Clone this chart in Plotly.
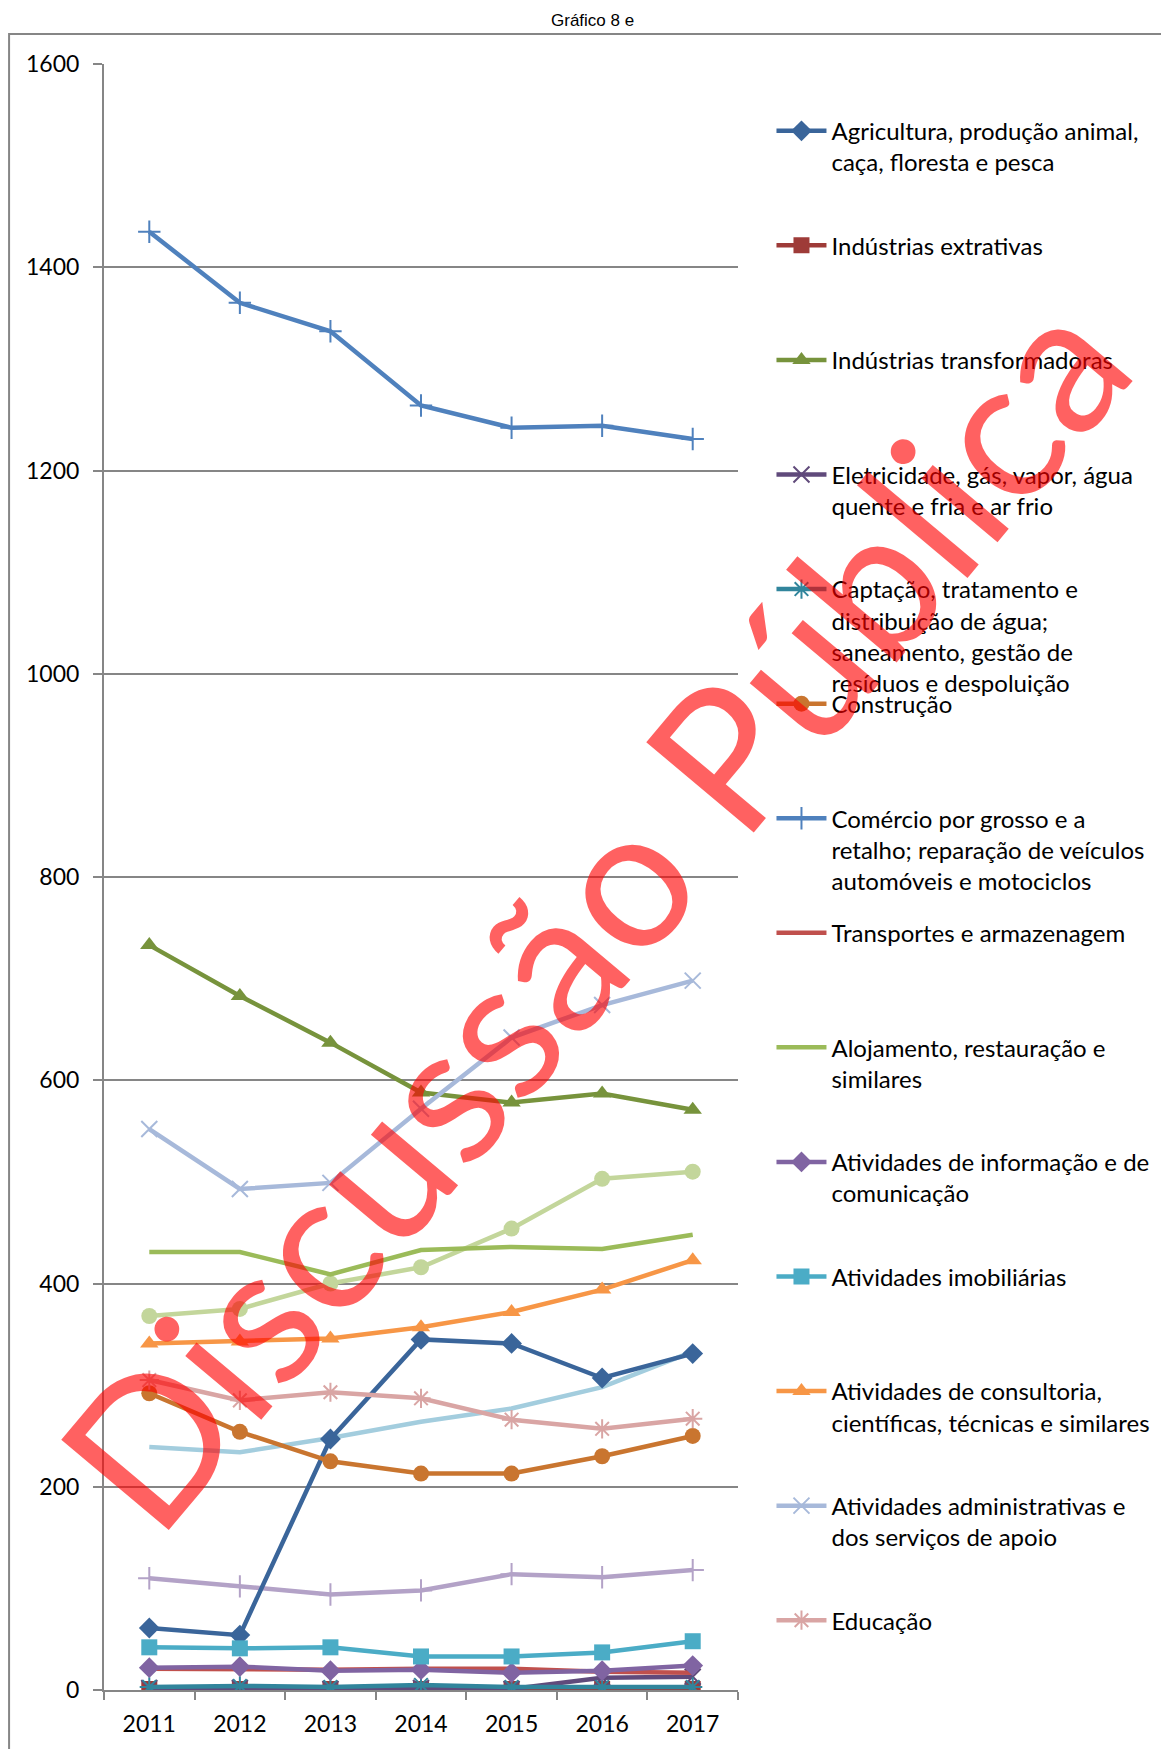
import plotly.graph_objects as go

years = ["2011", "2012", "2013", "2014", "2015", "2016", "2017"]

agricultura = [61, 54, 247, 345, 341, 307, 331]
ind_extrativas = [1, 1, 1, 1, 1, 1, 1]
ind_transformadoras = [733, 683, 637, 588, 578, 587, 571]
eletricidade = [2, 2, 1, 2, 1, 12, 13]
captacao = [3, 4, 3, 5, 3, 3, 3]
construcao = [292, 254, 225, 213, 213, 230, 250]
comercio = [1435, 1365, 1337, 1264, 1242, 1244, 1231]
transportes = [21, 20, 20, 21, 21, 18, 17]
alojamento = [431, 431, 409, 433, 436, 434, 448]
informacao = [22, 23, 19, 20, 17, 19, 24]
imobiliarias = [42, 41, 42, 33, 33, 37, 48]
consultoria = [341, 343, 346, 357, 372, 394, 423]
administrativas = [552, 493, 499, 572, 642, 674, 698]
educacao = [305, 285, 293, 287, 266, 257, 267]
saude = [368, 375, 400, 416, 454, 503, 510]
artisticas = [110, 102, 94, 98, 114, 111, 118]
outras = [239, 234, 248, 264, 277, 298, 333]

# (name in legend, values, colour, marker symbol or None)
series = [
    ("Agricultura, produção animal,<br>caça, floresta e pesca", agricultura, "#3A659A", "diamond"),
    ("Indústrias extrativas", ind_extrativas, "#9E3B38", "square"),
    ("Indústrias transformadoras", ind_transformadoras, "#77933C", "triangle-up"),
    ("Eletricidade, gás, vapor, água<br>quente e fria e ar frio", eletricidade, "#604A7B", "x-thin"),
    ("Captação, tratamento e<br>distribuição de água;<br>saneamento, gestão de<br>resíduos e despoluição", captacao, "#31859C", "asterisk"),
    ("Construção", construcao, "#C9752F", "circle"),
    ("Comércio por grosso e a<br>retalho; reparação de veículos<br>automóveis e motociclos", comercio, "#4F81BD", "cross-thin"),
    ("Transportes e armazenagem", transportes, "#C0504D", None),
    ("Alojamento, restauração e<br>similares", alojamento, "#9BBB59", None),
    ("Atividades de informação e de<br>comunicação", informacao, "#8064A2", "diamond"),
    ("Atividades imobiliárias", imobiliarias, "#4BACC6", "square"),
    ("Atividades de consultoria,<br>científicas, técnicas e similares", consultoria, "#F79646", "triangle-up"),
    ("Atividades administrativas e<br>dos serviços de apoio", administrativas, "#A7B9DA", "x-thin"),
    ("Educação", educacao, "#D9A5A4", "asterisk"),
]
# series that fall outside the legend box
extra = [
    ("Atividades de saúde humana e apoio social", saude, "#C3D69B", "circle"),
    ("Atividades artísticas, de espetáculos, desportivas e recreativas", artisticas, "#B3A2C7", "cross-thin"),
    ("Outras atividades de serviços", outras, "#A3CDDE", None),
]

# the page body adds an 8px margin, so work in screen px and shift
OFF = 8
W, H = 1169 - OFF, 1749 - OFF
L, R, T, B = 104 - OFF, 738.5 - OFF, 63.6 - OFF, 1690 - OFF  # plot area

def px_x(sx):
    return (sx - OFF - L) / (R - L)

def px_y(sy):
    return (B - (sy - OFF)) / (B - T)

def make_trace(name, vals, color, sym, legend=None, show=True):
    thin = sym is not None and ("thin" in sym or sym == "asterisk")
    if sym is None:
        mode = "lines"
        marker = None
    else:
        mode = "lines+markers"
        marker = dict(symbol=sym, size=16, color=color,
                      line=dict(color=color, width=2 if thin else 0))
    return go.Scatter(x=years, y=vals, name=name, mode=mode,
                      line=dict(color=color, width=4.5), marker=marker,
                      showlegend=show, legend=legend)

fig = go.Figure()

for name, vals, color, sym in extra:
    fig.add_trace(make_trace(name, vals, color, sym, show=False))

layout_legends = {}
for i, (name, vals, color, sym) in enumerate(series):
    key = "legend" if i == 0 else f"legend{i + 1}"
    fig.add_trace(make_trace(name, vals, color, sym, legend=key))
    center = 131.6 + 114.6 * i
    layout_legends[key] = dict(
        x=px_x(772), y=px_y(center - 23.3), xanchor="left", yanchor="top",
        bgcolor="rgba(0,0,0,0)", valign="top", itemwidth=50,
        font=dict(family="Lato, Open Sans, sans-serif", size=24, color="black"),
    )

fig.update_layout(
    width=W, height=H,
    margin=dict(l=L, r=W - R, t=T, b=H - B, pad=0, autoexpand=False),
    plot_bgcolor="white", paper_bgcolor="white",
    xaxis=dict(type="category", showgrid=False, showline=True, linecolor="#868686", linewidth=2,
               ticks="outside", tickson="boundaries", ticklen=8, tickcolor="#868686", tickwidth=1.5,
               ticklabelstandoff=12,
               tickfont=dict(family="Lato, sans-serif", size=23, color="black"), range=[-0.5, 6.5]),
    yaxis=dict(range=[0, 1600], dtick=200, showgrid=True, gridcolor="#868686", gridwidth=2,
               showline=True, linecolor="#868686", linewidth=2, zeroline=False,
               ticks="outside", ticklen=9, tickcolor="#868686", tickwidth=2,
               ticklabelstandoff=9,
               tickfont=dict(family="Lato, sans-serif", size=23, color="black")),
    **layout_legends,
)

# outer frame of the chart area
fig.add_shape(type="rect", xref="paper", yref="paper",
              x0=px_x(9), x1=px_x(1300), y0=px_y(1900), y1=px_y(33.5),
              line=dict(color="#868686", width=2), layer="below")

fig.add_annotation(text="Gráfico 8 e", xref="paper", yref="paper",
                   x=px_x(593), y=px_y(20), xanchor="center", yanchor="middle", showarrow=False,
                   font=dict(family="Liberation Sans Narrow, Liberation Sans, sans-serif", size=17, color="black"))

# watermark
fig.add_annotation(text="Discussão Pública", xref="paper", yref="paper",
                   x=px_x(591), y=px_y(909), xanchor="center", yanchor="middle",
                   showarrow=False, textangle=-50,
                   font=dict(family="Lato, sans-serif", size=196, color="rgba(255,0,0,0.62)"))

fig.write_html("out.html")
